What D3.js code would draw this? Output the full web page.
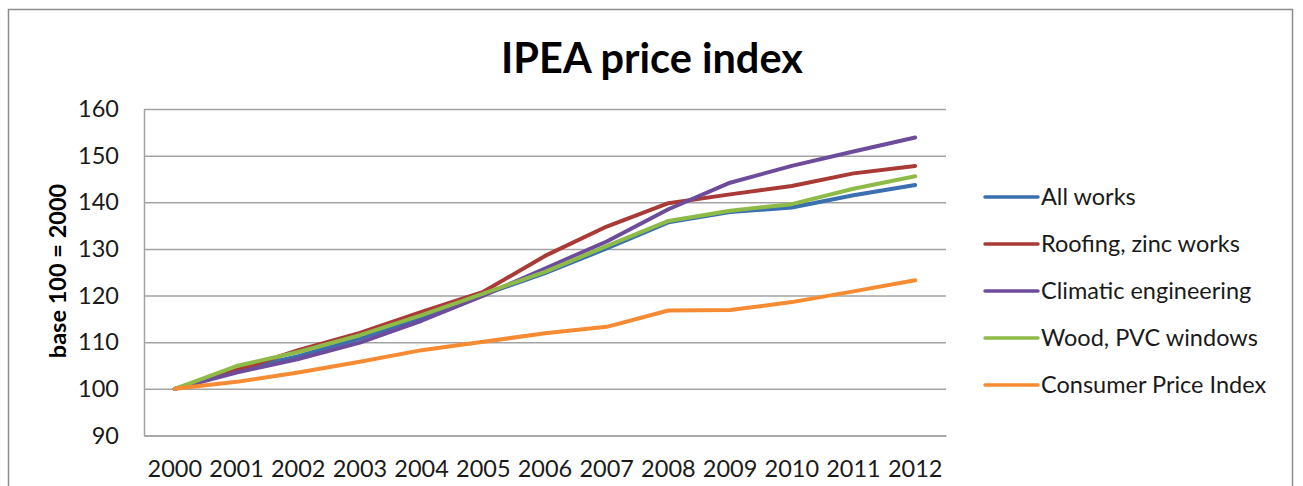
<!DOCTYPE html>
<html>
<head>
<meta charset="utf-8">
<script src="https://cdn.jsdelivr.net/npm/d3@7"></script>
<style>
  html, body { margin: 0; padding: 0; background: #fff; }
  svg { display: block; font-family: Lato, "Open Sans", sans-serif; }
</style>
</head>
<body>
<svg id="chart" width="1303" height="486"></svg>
<script>
const years = ["2000","2001","2002","2003","2004","2005","2006","2007","2008","2009","2010","2011","2012"];
const yTicks = [90, 100, 110, 120, 130, 140, 150, 160];
const seriesNames = ["All works", "Roofing, zinc works", "Climatic engineering", "Wood, PVC windows", "Consumer Price Index"];
const allWorks   = [100, 104.0, 107.0, 110.8, 115.3, 120.2, 124.8, 130.1, 135.7, 137.9, 138.9, 141.5, 143.7];
const roofing    = [100, 104.0, 108.3, 112.0, 116.5, 120.8, 128.5, 134.8, 139.8, 141.7, 143.5, 146.2, 147.8];
const climatic   = [100, 103.5, 106.4, 109.9, 114.6, 120.0, 125.8, 131.6, 138.5, 144.2, 147.8, 150.9, 153.9];
const wood       = [100, 104.9, 107.9, 111.5, 115.8, 120.4, 125.1, 130.6, 136.0, 138.2, 139.6, 142.9, 145.6];
const cpi        = [100, 101.5, 103.5, 105.8, 108.3, 110.1, 111.9, 113.3, 116.8, 116.9, 118.6, 120.9, 123.3];
const seriesValues = [allWorks, roofing, climatic, wood, cpi];
const colors = ["#3A6FB0", "#A93A35", "#6E4C9C", "#8EBB47", "#F68B33"];

const svg = d3.select("#chart");

// outer chart border
svg.append("rect")
  .attr("x", 8.5).attr("y", 9.5)
  .attr("width", 1284).attr("height", 490)
  .attr("fill", "#fff").attr("stroke", "#8c8c8c").attr("stroke-width", 1.5);

const plotL = 144, plotR = 946, plotT = 109, plotB = 435.5;

const x = d3.scaleBand().domain(years).range([plotL, plotR]).padding(0);
const cx = d => x(d) + x.bandwidth() / 2;
const y = d3.scaleLinear().domain([90, 160]).range([plotB, plotT]);

// y axis with gridlines
const yAxis = svg.append("g")
  .attr("transform", `translate(${plotL},0)`)
  .call(d3.axisLeft(y).tickValues(yTicks).tickSizeInner(-(plotR - plotL)).tickSizeOuter(0).tickPadding(25));
yAxis.selectAll(".tick line").attr("stroke", "#a3a3a3").attr("stroke-width", 1.5);
yAxis.select(".domain").attr("stroke", "#a3a3a3").attr("stroke-width", 1.5);
yAxis.selectAll(".tick text")
  .attr("font-size", 23.5).attr("fill", "#1a1a1a")
  .attr("font-family", "Lato, 'Open Sans', sans-serif");

// x axis
const xAxis = svg.append("g")
  .attr("transform", `translate(0,${plotB})`)
  .call(d3.axisBottom(x).tickSize(0).tickPadding(25));
xAxis.select(".domain").attr("stroke", "#a3a3a3").attr("stroke-width", 1.5);
xAxis.selectAll(".tick text")
  .attr("font-size", 23.5).attr("fill", "#1a1a1a")
  .attr("font-family", "Lato, 'Open Sans', sans-serif");

// lines
const line = d3.line()
  .x((d, i) => cx(years[i]))
  .y(d => y(d));

seriesValues.forEach((vals, k) => {
  svg.append("path")
    .datum(vals)
    .attr("d", line)
    .attr("fill", "none")
    .attr("stroke", colors[k])
    .attr("stroke-width", 4)
    .attr("stroke-linejoin", "round")
    .attr("stroke-linecap", "round");
});

// title
svg.append("text")
  .attr("x", 652).attr("y", 73)
  .attr("text-anchor", "middle")
  .attr("font-size", 41.5).attr("font-weight", "bold").attr("fill", "#000")
  .text("IPEA price index");

// y axis title
svg.append("text")
  .attr("transform", "translate(66,271) rotate(-90)")
  .attr("text-anchor", "middle")
  .attr("font-size", 23.5).attr("font-weight", "bold").attr("fill", "#000")
  .text("base 100 = 2000");

// legend
const legendY = d3.scalePoint().domain(seriesNames).range([197, 385]);
const lg = svg.append("g");
seriesNames.forEach((name, k) => {
  const yy = legendY(name);
  lg.append("line")
    .attr("x1", 985).attr("x2", 1038)
    .attr("y1", yy).attr("y2", yy)
    .attr("stroke", colors[k]).attr("stroke-width", 3.5)
    .attr("stroke-linecap", "round");
  lg.append("text")
    .attr("x", 1041).attr("y", yy)
    .attr("dy", "0.35em")
    .attr("font-size", 23.5).attr("fill", "#1a1a1a")
    .text(name);
});
</script>
</body>
</html>
